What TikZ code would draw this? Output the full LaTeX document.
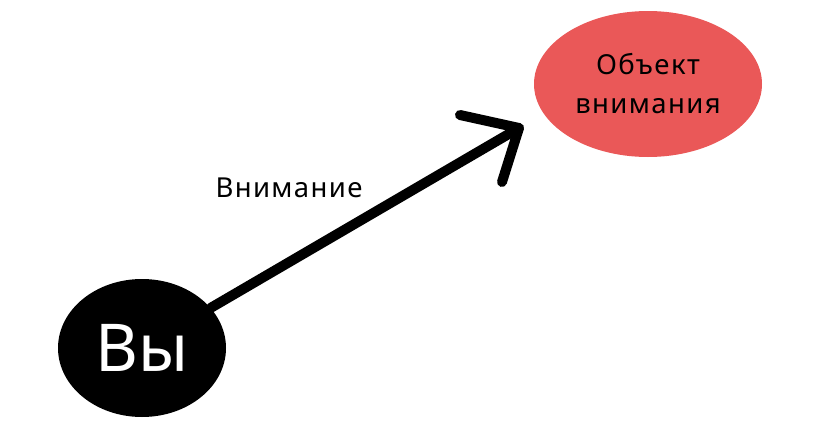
\documentclass[tikz,border=0pt]{standalone}
\usepackage{fontspec}
\setmainfont{Noto Sans}
\newfontfamily\spacedfont[LetterSpace=5]{Noto Sans}
\usetikzlibrary{shapes.geometric}
\definecolor{objred}{RGB}{234,88,88}
\tikzset{
  youbox/.style={ellipse, fill=black, text=white, minimum width=168pt, minimum height=138pt, inner sep=0pt, font=\fontsize{66}{70}\selectfont},
  objbox/.style={ellipse, fill=objred, text=black, minimum width=228pt, minimum height=146pt, inner sep=0pt, align=center, font=\spacedfont\fontsize{27.5}{39}\selectfont},
  shaft/.style={line width=10pt, line cap=round, line join=round},
  lbl/.style={font=\spacedfont\fontsize{27.5}{30}\selectfont, inner sep=0pt}
}
\begin{document}
\begin{tikzpicture}[x=1pt, y=-1pt]
\useasboundingbox (0,0) rectangle (822,447);
\node[youbox] (you) at (142,348) {Вы};
\node[objbox] (obj) at (648,84) {Объект\\внимания};
\coordinate (tip) at (519,128);
\coordinate (armA) at (460,115);
\coordinate (armB) at (502,182);
\draw[shaft] (you) -- (tip);
\draw[shaft] (armA) -- (tip) -- (armB);
\node[lbl] (att) at (289,188) {Внимание};
\end{tikzpicture}
\end{document}
